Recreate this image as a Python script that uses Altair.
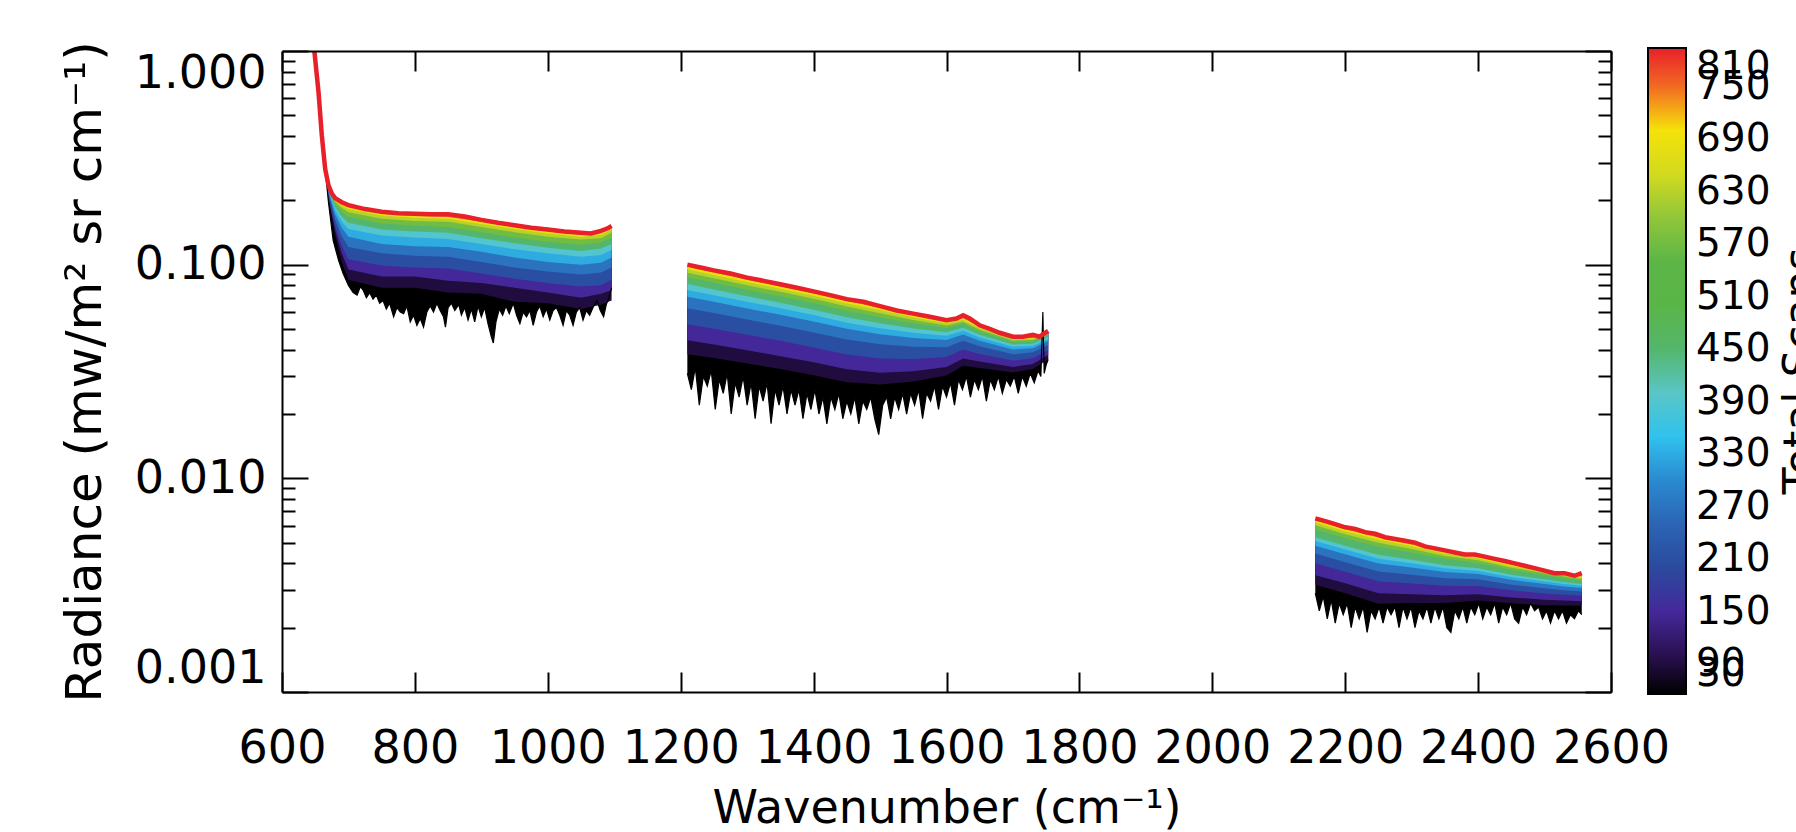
import altair as alt
import pandas as pd

# ---------------- axis and colour-bar tick values ----------------
X_TICKS = [600, 800, 1000, 1200, 1400, 1600, 1800, 2000, 2200, 2400, 2600]
Y_MAJOR = [0.001, 0.01, 0.1, 1.0]
Y_MINOR = [0.002, 0.003, 0.004, 0.005, 0.006, 0.007, 0.008, 0.009,
           0.02, 0.03, 0.04, 0.05, 0.06, 0.07, 0.08, 0.09,
           0.2, 0.3, 0.4, 0.5, 0.6, 0.7, 0.8, 0.9]
SCAN_TICKS = [30, 90, 150, 210, 270, 330, 390, 450, 510, 570, 630, 690, 750, 810]

# colour table (scan count -> colour); counts outside the bar's span are clamped
CMAP_STOPS = [56, 100, 150, 200, 250, 300, 350, 400, 450, 500, 550, 600, 650, 700, 750, 794]
CMAP_COLORS = ["#000000", "#2a1050", "#44289a", "#2a4a9e", "#2c64b4", "#2a8ad0", "#30c2ee",
               "#5ac6c6", "#54b66c", "#5ab548", "#5cb646", "#90c63a", "#d2da1e", "#f5e20a",
               "#f26a22", "#e8202a"]

# ---------------- spectra: 810-scan mean (top curve) ----------------
RED_LW_WN = [648, 655, 660, 665, 670, 675, 680, 690, 700, 725, 750, 775, 800, 825, 850, 875,
             900, 925, 950, 975, 1000, 1025, 1050, 1065, 1080, 1090, 1096]
RED_LW = [1.05, 0.64, 0.40, 0.28, 0.235, 0.215, 0.205, 0.196, 0.190, 0.182, 0.177, 0.174, 0.173,
          0.172, 0.172, 0.168, 0.162, 0.157, 0.153, 0.149, 0.146, 0.143, 0.141, 0.140, 0.144,
          0.148, 0.152]
RED_MW_WN = [1210, 1230, 1250, 1275, 1300, 1325, 1350, 1375, 1400, 1425, 1450, 1475, 1500, 1525,
             1550, 1575, 1600, 1615, 1625, 1635, 1650, 1665, 1680, 1700, 1715, 1730, 1740, 1753]
RED_MW = [0.100, 0.097, 0.094, 0.091, 0.087, 0.084, 0.081, 0.078, 0.075, 0.072, 0.069, 0.067,
          0.064, 0.061, 0.059, 0.057, 0.055, 0.056, 0.058, 0.056, 0.052, 0.050, 0.048, 0.046,
          0.046, 0.047, 0.046, 0.049]
RED_SW_WN = [2155, 2170, 2185, 2200, 2215, 2230, 2245, 2260, 2275, 2290, 2305, 2320, 2335, 2350,
             2365, 2380, 2395, 2410, 2425, 2440, 2455, 2470, 2485, 2500, 2515, 2530, 2545, 2556]
RED_SW = [0.0065, 0.0063, 0.0061, 0.0059, 0.0058, 0.0056, 0.0055, 0.0053, 0.0052, 0.0051, 0.0050,
          0.0048, 0.0047, 0.0046, 0.0045, 0.0044, 0.0044, 0.0043, 0.0042, 0.0041, 0.0040, 0.0039,
          0.0038, 0.0037, 0.0036, 0.0036, 0.0035, 0.0036]

# ---------------- spectra: 30-scan mean (noisiest, bottom curve) ----------------
BLACK_LW_WN = [648, 655, 660, 665, 670, 677, 685, 692, 700, 707, 713, 718, 722, 727, 732, 737, 742,
               747, 752, 757, 762, 768, 773, 778, 783, 788, 793, 798, 803, 808, 813, 818, 823, 828,
               833, 838, 843, 846, 850, 855, 860, 866, 870, 875, 880, 885, 890, 895, 900, 905, 910,
               915, 918, 922, 927, 932, 937, 942, 948, 953, 958, 963, 968, 973, 978, 983, 988, 993,
               998, 1003, 1008, 1013, 1018, 1023, 1028, 1033, 1038, 1043, 1048, 1053, 1058, 1063,
               1069, 1074, 1079, 1084, 1088, 1092, 1096]
BLACK_LW = [1.05, 0.64, 0.40, 0.28, 0.195, 0.130, 0.105, 0.091, 0.080, 0.074, 0.072, 0.079, 0.076,
            0.070, 0.074, 0.069, 0.072, 0.066, 0.068, 0.062, 0.066, 0.057, 0.063, 0.060, 0.059,
            0.064, 0.054, 0.058, 0.052, 0.056, 0.051, 0.060, 0.064, 0.060, 0.066, 0.061, 0.057,
            0.051, 0.063, 0.066, 0.061, 0.065, 0.058, 0.063, 0.055, 0.062, 0.054, 0.064, 0.057,
            0.063, 0.053, 0.046, 0.043, 0.054, 0.062, 0.058, 0.064, 0.059, 0.066, 0.058, 0.053,
            0.060, 0.057, 0.061, 0.052, 0.060, 0.064, 0.057, 0.062, 0.055, 0.061, 0.063, 0.058,
            0.052, 0.061, 0.058, 0.052, 0.060, 0.063, 0.055, 0.061, 0.058, 0.064, 0.068, 0.061,
            0.057, 0.065, 0.070, 0.078]
BLACK_MW_WN = [1210, 1216, 1222, 1228, 1234, 1240, 1246, 1252, 1258, 1264, 1270, 1276, 1282, 1288,
               1294, 1300, 1306, 1312, 1318, 1324, 1330, 1336, 1342, 1348, 1354, 1360, 1366, 1372,
               1378, 1384, 1390, 1396, 1402, 1408, 1414, 1420, 1426, 1432, 1438, 1444, 1450, 1456,
               1462, 1468, 1474, 1480, 1486, 1492, 1498, 1504, 1510, 1516, 1522, 1528, 1534, 1540,
               1546, 1552, 1558, 1564, 1570, 1576, 1582, 1588, 1594, 1600, 1606, 1612, 1618, 1624,
               1630, 1636, 1642, 1648, 1654, 1660, 1666, 1672, 1678, 1684, 1690, 1696, 1702, 1708,
               1714, 1720, 1726, 1732, 1738, 1742, 1745, 1747, 1750, 1753]
BLACK_MW = [0.031, 0.026, 0.033, 0.022, 0.030, 0.027, 0.032, 0.021, 0.029, 0.025, 0.031, 0.020,
            0.028, 0.024, 0.030, 0.022, 0.028, 0.019, 0.027, 0.023, 0.028, 0.018, 0.026, 0.022,
            0.027, 0.020, 0.026, 0.022, 0.026, 0.019, 0.025, 0.021, 0.026, 0.020, 0.024, 0.018,
            0.024, 0.021, 0.025, 0.019, 0.023, 0.020, 0.024, 0.018, 0.023, 0.021, 0.024, 0.019,
            0.016, 0.022, 0.024, 0.019, 0.024, 0.021, 0.025, 0.020, 0.025, 0.022, 0.026, 0.019,
            0.025, 0.023, 0.027, 0.021, 0.027, 0.024, 0.028, 0.022, 0.029, 0.026, 0.030, 0.024,
            0.029, 0.026, 0.030, 0.023, 0.029, 0.026, 0.030, 0.025, 0.029, 0.027, 0.030, 0.025,
            0.030, 0.027, 0.031, 0.028, 0.032, 0.030, 0.060, 0.031, 0.034, 0.036]
BLACK_SW_WN = [2155, 2161, 2167, 2173, 2179, 2185, 2191, 2197, 2203, 2209, 2215, 2221, 2227, 2233,
               2239, 2245, 2251, 2257, 2263, 2269, 2275, 2281, 2287, 2293, 2299, 2305, 2311, 2317,
               2323, 2329, 2335, 2341, 2347, 2353, 2359, 2365, 2371, 2377, 2383, 2389, 2395, 2401,
               2407, 2413, 2419, 2425, 2431, 2437, 2443, 2449, 2455, 2461, 2467, 2473, 2479, 2485,
               2491, 2497, 2503, 2509, 2515, 2521, 2527, 2533, 2539, 2545, 2551, 2556]
BLACK_SW = [0.0029, 0.0024, 0.0028, 0.0022, 0.0027, 0.0021, 0.0026, 0.0023, 0.0026, 0.0020, 0.0025,
            0.0022, 0.0025, 0.0019, 0.0024, 0.0022, 0.0025, 0.0021, 0.0025, 0.0023, 0.0025, 0.0020,
            0.0025, 0.0022, 0.0025, 0.0020, 0.0024, 0.0022, 0.0025, 0.0021, 0.0025, 0.0022, 0.0025,
            0.0020, 0.0019, 0.0024, 0.0022, 0.0025, 0.0021, 0.0025, 0.0023, 0.0026, 0.0022, 0.0025,
            0.0023, 0.0026, 0.0021, 0.0025, 0.0023, 0.0026, 0.0022, 0.0021, 0.0025, 0.0023, 0.0026,
            0.0024, 0.0025, 0.0022, 0.0024, 0.0021, 0.0024, 0.0022, 0.0024, 0.0021, 0.0023, 0.0022,
            0.0024, 0.0023]

# ---------------- intermediate scan counts, sampled on a coarser grid ----------------
GRID_LW = [648, 655, 660, 665, 670, 680, 690, 700, 750, 800, 850, 900, 950, 1000, 1050, 1080, 1096]
GRID_MW = [1210, 1250, 1300, 1350, 1400, 1450, 1500, 1550, 1600, 1625, 1650, 1700, 1730, 1753]
GRID_SW = [2155, 2200, 2250, 2300, 2350, 2400, 2450, 2500, 2530, 2556]

LW_LEVELS = {
    750: [1.05, 0.64, 0.40, 0.28, 0.234, 0.203, 0.193, 0.186, 0.173, 0.169, 0.167, 0.159, 0.150, 0.143, 0.138, 0.141, 0.149],
    690: [1.05, 0.64, 0.40, 0.28, 0.233, 0.201, 0.189, 0.182, 0.170, 0.166, 0.164, 0.155, 0.147, 0.140, 0.135, 0.138, 0.146],
    630: [1.05, 0.64, 0.40, 0.28, 0.231, 0.197, 0.184, 0.176, 0.164, 0.160, 0.159, 0.150, 0.142, 0.135, 0.131, 0.133, 0.141],
    570: [1.05, 0.64, 0.40, 0.28, 0.229, 0.192, 0.177, 0.167, 0.156, 0.152, 0.150, 0.142, 0.134, 0.128, 0.124, 0.127, 0.134],
    450: [1.05, 0.64, 0.40, 0.28, 0.226, 0.186, 0.168, 0.157, 0.146, 0.143, 0.141, 0.133, 0.126, 0.120, 0.116, 0.119, 0.125],
    390: [1.05, 0.64, 0.40, 0.28, 0.223, 0.180, 0.159, 0.147, 0.137, 0.134, 0.132, 0.125, 0.118, 0.113, 0.109, 0.111, 0.117],
    330: [1.05, 0.64, 0.40, 0.28, 0.219, 0.172, 0.149, 0.135, 0.125, 0.122, 0.121, 0.115, 0.108, 0.103, 0.100, 0.102, 0.108],
    270: [1.05, 0.64, 0.40, 0.28, 0.215, 0.163, 0.136, 0.121, 0.113, 0.110, 0.109, 0.103, 0.097, 0.093, 0.090, 0.092, 0.097],
    210: [1.05, 0.64, 0.40, 0.28, 0.209, 0.153, 0.123, 0.106, 0.099, 0.097, 0.096, 0.091, 0.086, 0.082, 0.079, 0.080, 0.085],
    150: [1.05, 0.64, 0.40, 0.28, 0.205, 0.145, 0.113, 0.095, 0.088, 0.088, 0.084, 0.082, 0.078, 0.074, 0.070, 0.073, 0.076],
    90:  [1.05, 0.64, 0.40, 0.28, 0.200, 0.137, 0.103, 0.085, 0.078, 0.078, 0.074, 0.073, 0.067, 0.066, 0.062, 0.065, 0.068],
}
MW_LEVELS = {
    750: [0.0980, 0.0920, 0.0850, 0.0790, 0.0735, 0.0676, 0.0628, 0.0579, 0.0541, 0.0561, 0.0512, 0.0454, 0.0454, 0.0484],
    690: [0.0952, 0.0895, 0.0829, 0.0772, 0.0716, 0.0659, 0.0613, 0.0567, 0.0532, 0.0553, 0.0506, 0.0450, 0.0451, 0.0481],
    630: [0.0917, 0.0863, 0.0800, 0.0746, 0.0692, 0.0637, 0.0593, 0.0551, 0.0519, 0.0541, 0.0496, 0.0442, 0.0444, 0.0475],
    570: [0.0873, 0.0823, 0.0763, 0.0712, 0.0661, 0.0609, 0.0568, 0.0532, 0.0506, 0.0529, 0.0487, 0.0436, 0.0438, 0.0469],
    450: [0.0811, 0.0765, 0.0712, 0.0663, 0.0616, 0.0568, 0.0532, 0.0503, 0.0483, 0.0507, 0.0470, 0.0423, 0.0427, 0.0459],
    390: [0.0762, 0.0720, 0.0671, 0.0626, 0.0581, 0.0535, 0.0504, 0.0480, 0.0465, 0.0491, 0.0456, 0.0413, 0.0417, 0.0449],
    330: [0.0708, 0.0670, 0.0624, 0.0583, 0.0542, 0.0501, 0.0472, 0.0454, 0.0444, 0.0471, 0.0441, 0.0401, 0.0406, 0.0439],
    270: [0.0626, 0.0594, 0.0554, 0.0518, 0.0482, 0.0446, 0.0424, 0.0413, 0.0411, 0.0441, 0.0415, 0.0381, 0.0389, 0.0421],
    210: [0.0526, 0.0501, 0.0470, 0.0440, 0.0410, 0.0380, 0.0364, 0.0362, 0.0370, 0.0401, 0.0382, 0.0356, 0.0365, 0.0399],
    150: [0.0443, 0.0423, 0.0398, 0.0373, 0.0349, 0.0324, 0.0312, 0.0317, 0.0332, 0.0364, 0.0352, 0.0332, 0.0343, 0.0378],
    90:  [0.0381, 0.0366, 0.0345, 0.0325, 0.0304, 0.0282, 0.0275, 0.0284, 0.0303, 0.0336, 0.0328, 0.0313, 0.0325, 0.0360],
}
SW_LEVELS = {
    750: [0.00636, 0.00578, 0.00528, 0.00490, 0.00453, 0.00429, 0.00395, 0.00371, 0.00357, 0.00347],
    690: [0.00623, 0.00566, 0.00517, 0.00481, 0.00445, 0.00423, 0.00389, 0.00366, 0.00353, 0.00343],
    630: [0.00603, 0.00548, 0.00500, 0.00467, 0.00433, 0.00414, 0.00382, 0.00360, 0.00347, 0.00338],
    570: [0.00578, 0.00525, 0.00479, 0.00449, 0.00420, 0.00401, 0.00372, 0.00352, 0.00340, 0.00332],
    450: [0.00530, 0.00483, 0.00439, 0.00416, 0.00392, 0.00379, 0.00354, 0.00337, 0.00326, 0.00320],
    390: [0.00509, 0.00464, 0.00420, 0.00401, 0.00379, 0.00368, 0.00345, 0.00329, 0.00320, 0.00314],
    330: [0.00484, 0.00441, 0.00399, 0.00383, 0.00364, 0.00357, 0.00335, 0.00320, 0.00312, 0.00307],
    270: [0.00445, 0.00405, 0.00366, 0.00354, 0.00341, 0.00337, 0.00318, 0.00306, 0.00299, 0.00295],
    210: [0.00400, 0.00365, 0.00330, 0.00322, 0.00314, 0.00313, 0.00299, 0.00289, 0.00285, 0.00282],
    150: [0.00352, 0.00323, 0.00290, 0.00287, 0.00284, 0.00287, 0.00277, 0.00270, 0.00268, 0.00266],
    90:  [0.00318, 0.00290, 0.00259, 0.00261, 0.00261, 0.00268, 0.00260, 0.00255, 0.00254, 0.00254],
}

# ---------------- tables ----------------
def curve(band, scans, wns, vals):
    return pd.DataFrame({"band": band, "scans": scans, "wn": wns, "rad": vals})

red_df = pd.concat([curve("LW", 810, RED_LW_WN, RED_LW),
                    curve("MW", 810, RED_MW_WN, RED_MW),
                    curve("SW", 810, RED_SW_WN, RED_SW)])
black_df = pd.concat([curve("LW", 30, BLACK_LW_WN, BLACK_LW),
                      curve("MW", 30, BLACK_MW_WN, BLACK_MW),
                      curve("SW", 30, BLACK_SW_WN, BLACK_SW)])
level_dfs = {}
for lev in LW_LEVELS:
    level_dfs[lev] = pd.concat([curve("LW", lev, GRID_LW, LW_LEVELS[lev]),
                                curve("MW", lev, GRID_MW, MW_LEVELS[lev]),
                                curve("SW", lev, GRID_SW, SW_LEVELS[lev])])

# ---------------- geometry / styling ----------------
W, H = 1329, 641
FONT = "DejaVu Sans"

x_scale = alt.Scale(domain=[600, 2600], nice=False, zero=False)
y_scale = alt.Scale(type="log", domain=[0.001, 1.0], nice=False)

color_enc = alt.Color(
    "scans:Q",
    scale=alt.Scale(domain=CMAP_STOPS, range=CMAP_COLORS, clamp=True, interpolate="rgb"),
    legend=alt.Legend(
        orient="none", legendX=1366, legendY=-3, direction="vertical", type="gradient",
        values=SCAN_TICKS, format="d", gradientLength=646, gradientThickness=38,
        gradientStrokeColor="black", gradientStrokeWidth=2,
        labelFont=FONT, labelFontSize=39, labelColor="black", labelOffset=10,
        labelOverlap=False, padding=0, title=None,
    ),
)

label_x_axis = alt.Axis(
    values=X_TICKS, format="d", ticks=False, tickSize=0, grid=False, labelFlush=False,
    labelFont=FONT, labelFontSize=46, labelColor="black", labelPadding=34, labelOverlap=False,
    domain=True, domainColor="black", domainWidth=2, zindex=1,
    title="Wavenumber (cm⁻¹)", titleFont=FONT, titleFontSize=46, titleFontWeight="normal",
    titleColor="black", titlePadding=15,
)
label_y_axis = alt.Axis(
    values=Y_MAJOR, format=".3f", ticks=False, tickSize=0, grid=False, labelFlush=True,
    labelFont=FONT, labelFontSize=46, labelColor="black", labelPadding=16, labelOverlap=False,
    domain=True, domainColor="black", domainWidth=2, zindex=1,
    title="Radiance (mw/m² sr cm⁻¹)", titleFont=FONT, titleFontSize=50, titleFontWeight="normal",
    titleColor="black", titlePadding=24,
)


def tick_axis(orient, offset, values, size, domain):
    return alt.Axis(orient=orient, offset=offset, values=values, labels=False, ticks=True,
                    tickSize=size, tickWidth=2, tickColor="black", grid=False, title=None,
                    domain=domain, domainColor="black", domainWidth=2, zindex=1)


def X(axis):
    return alt.X("wn:Q", scale=x_scale, axis=axis)


def Y(axis):
    return alt.Y("rad:Q", scale=y_scale, axis=axis)


layers = []
# filled bands: each scan level fills from its spectrum upward, higher counts painted later
for i, lev in enumerate([30, 90, 150, 210, 270, 330, 390, 450, 570, 630, 690, 750]):
    src = black_df if lev == 30 else level_dfs[lev]
    first = i == 0
    layers.append(
        alt.Chart(src).mark_area(clip=True, interpolate="linear").encode(
            x=X(label_x_axis if first else None),
            y=Y(label_y_axis if first else None),
            y2=alt.datum(1.0),
            color=color_enc,
            detail="band:N",
        )
    )

# blank out everything above the 810-scan spectrum
layers.append(
    alt.Chart(red_df).mark_area(clip=True, color="white", stroke="white", strokeWidth=3).encode(
        x=X(None), y=Y(None), y2=alt.datum(1.0), detail="band:N"
    )
)
# 30-scan spectrum outline and 810-scan spectrum on top
layers.append(
    alt.Chart(black_df).mark_line(clip=True, strokeWidth=1.2, color="#000000").encode(
        x=X(None), y=Y(None), detail="band:N"
    )
)
layers.append(
    alt.Chart(red_df).mark_line(clip=True, strokeWidth=4.5, color="#e8202a").encode(
        x=X(None), y=Y(None), detail="band:N"
    )
)

# inward-pointing ticks on all four sides of the frame
ghost = alt.Chart(red_df).mark_point(opacity=0)
layers.append(ghost.encode(
    x=X(tick_axis("top", -H, X_TICKS, 20, False)),
    y=Y(tick_axis("right", -W, Y_MAJOR, 26, False)),
))
layers.append(ghost.encode(
    x=X(tick_axis("bottom", -H, X_TICKS, 20, True)),
    y=Y(tick_axis("left", -W, Y_MAJOR, 26, True)),
))
layers.append(ghost.encode(x=X(None), y=Y(tick_axis("right", -W, Y_MINOR, 13, False))))
layers.append(ghost.encode(x=X(None), y=Y(tick_axis("left", -W, Y_MINOR, 13, False))))

# colour-bar title, running upward beside the bar labels
layers.append(
    alt.Chart(pd.DataFrame({"label": ["Total Scans"]})).mark_text(
        angle=270, align="center", baseline="top", font=FONT, fontSize=44, color="black"
    ).encode(x=alt.value(1498), y=alt.value(320), text="label:N")
)

chart = (
    alt.layer(*layers)
    .resolve_axis(x="independent", y="independent")
    .properties(
        width=W, height=H,
        autosize=alt.AutoSizeParams(type="none"),
        padding={"left": 282, "top": 51, "right": 185, "bottom": 140},
        background="white",
    )
    .configure_view(stroke=None)
    .configure(font=FONT)
)

chart.save("out.html", embed_options={"renderer": "svg", "actions": False})
